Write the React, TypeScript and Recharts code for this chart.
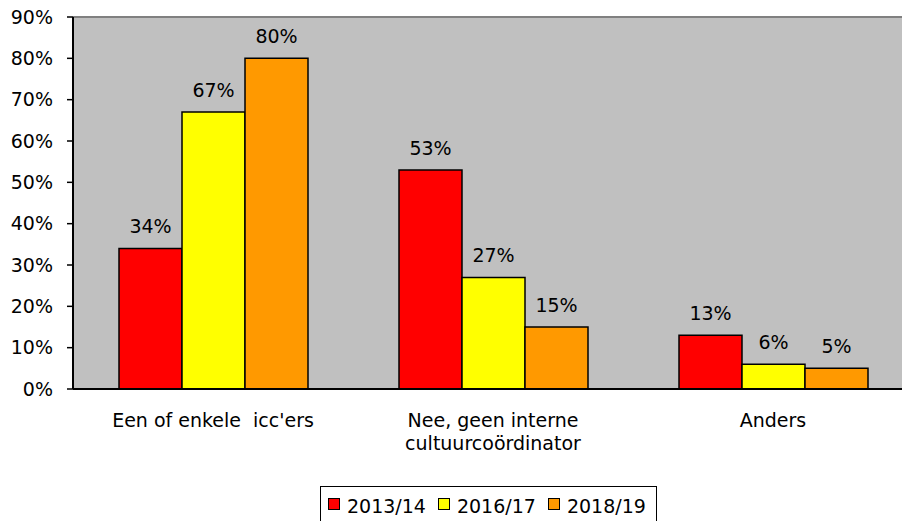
import React from "react";
import {
  BarChart,
  Bar,
  XAxis,
  YAxis,
  CartesianGrid,
  Legend,
  LabelList,
  ReferenceLine,
} from "recharts";

const FONT = "'DejaVu Sans', Verdana, sans-serif";

const categories = [
  "Een of enkele  icc'ers",
  "Nee, geen interne\ncultuurcoördinator",
  "Anders",
];
const seriesNames = ["2013/14", "2016/17", "2018/19"];
const seriesColors = ["#FF0000", "#FFFF00", "#FF9900"];
const values2013 = [34, 53, 13];
const values2016 = [67, 27, 6];
const values2018 = [80, 15, 5];
const yTicks = [0, 10, 20, 30, 40, 50, 60, 70, 80, 90];
const boundaryTicks = [0, 1, 2, 3];

const data = categories.map((name, i) => ({
  name,
  s0: values2013[i],
  s1: values2016[i],
  s2: values2018[i],
}));

const pct = (v: any) => `${v}%`;

const CatTick = (props: any) => {
  const { x, y, payload } = props;
  const lines = String(payload.value).split("\n");
  return (
    <text
      x={x}
      y={y}
      textAnchor="middle"
      fill="#000"
      fontSize={19}
      fontFamily={FONT}
      xmlSpace="preserve"
      style={{ whiteSpace: "pre" }}
    >
      {lines.map((l, i) => (
        <tspan key={i} x={x} dy={i === 0 ? 37 : 23}>
          {l}
        </tspan>
      ))}
    </text>
  );
};

const LegendBox = () => (
  <div
    style={{
      display: "inline-flex",
      alignItems: "center",
      border: "1.5px solid #000",
      background: "#fff",
      padding: "8px 10px 10px 7px",
      fontFamily: FONT,
      fontSize: 19,
      color: "#000",
      whiteSpace: "nowrap",
    }}
  >
    {seriesNames.map((n, i) => (
      <span
        key={n}
        style={{
          display: "inline-flex",
          alignItems: "center",
          marginRight: i < seriesNames.length - 1 ? 12 : 0,
        }}
      >
        <span
          style={{
            display: "inline-block",
            width: 12,
            height: 12,
            boxSizing: "border-box",
            border: "1.5px solid #000",
            background: seriesColors[i],
            marginRight: 7,
            position: "relative",
            top: -2,
          }}
        />
        {n}
      </span>
    ))}
  </div>
);

export default function App() {
  const keys = ["s0", "s1", "s2"];
  return (
    <div
      style={{
        position: "fixed",
        left: 0,
        top: 0,
        width: 902,
        height: 521,
        overflow: "hidden",
        background: "#fff",
      }}
    >
      <BarChart
        width={913}
        height={521}
        data={data}
        margin={{ top: 17, right: 0, bottom: 0, left: 0 }}
        barCategoryGap={46}
        barGap={0}
      >
        <CartesianGrid
          xAxisId="cat"
          fill="#C0C0C0"
          horizontal={false}
          vertical={false}
          stroke="none"
        />
        <XAxis
          xAxisId="cat"
          dataKey="name"
          type="category"
          axisLine={false}
          tickLine={false}
          tickSize={0}
          tickMargin={0}
          interval={0}
          height={131}
          tick={<CatTick />}
        />
        <XAxis
          xAxisId="aNum"
          type="number"
          domain={[0, 3]}
          allowDataOverflow
          ticks={boundaryTicks}
          interval={0}
          tick={false}
          height={1}
          axisLine={{ stroke: "#000", strokeWidth: 2 }}
          tickLine={{ stroke: "#000", strokeWidth: 1.5 }}
          tickSize={7}
        />
        <YAxis
          width={73}
          domain={[0, 90]}
          ticks={yTicks}
          interval={0}
          tickFormatter={pct}
          axisLine={{ stroke: "#000", strokeWidth: 2 }}
          tickLine={{ stroke: "#000", strokeWidth: 1.5 }}
          tickSize={6}
          tickMargin={14}
          tick={{ fill: "#000", fontSize: 19, fontFamily: FONT }}
        />
        <ReferenceLine
          xAxisId="cat"
          y={90}
          stroke="#808080"
          strokeWidth={2}
        />
        {keys.map((k, i) => (
          <Bar
            key={k}
            xAxisId="cat"
            dataKey={k}
            name={seriesNames[i]}
            fill={seriesColors[i]}
            stroke="#000"
            strokeWidth={1.5}
            isAnimationActive={false}
          >
            <LabelList
              dataKey={k}
              position="top"
              offset={15}
              formatter={pct}
              fill="#000"
              fontSize={19}
              fontFamily={FONT}
            />
          </Bar>
        ))}
        <Legend
          layout="horizontal"
          verticalAlign="middle"
          wrapperStyle={{ left: 320, top: 486, width: "auto" }}
          content={<LegendBox />}
        />
      </BarChart>
    </div>
  );
}
